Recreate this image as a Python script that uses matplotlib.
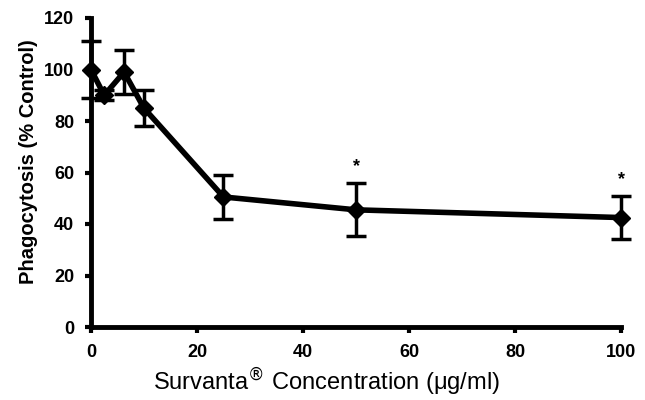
import matplotlib.pyplot as plt

plt.rcParams['font.family'] = ['Liberation Sans', 'DejaVu Sans']

# datos
conc = [0, 2.5, 6.25, 10, 25, 50, 100]
phago = [100, 90, 99, 85, 50.5, 45.5, 42.5]
err = [11, 2, 8.5, 7, 8.5, 10.3, 8.5]
signif = [50, 100]

fig = plt.figure(figsize=(6.45, 4.0), dpi=100)
ax = fig.add_axes([0.141, 0.1825, 0.822, 0.7725])

ax.errorbar(conc, phago, yerr=err, color='black', lw=4, marker='D', ms=9,
            elinewidth=2.5, capsize=7, capthick=2.5, clip_on=False, zorder=3)

# asteriscos de significancia
for x in signif:
    i = conc.index(x)
    ax.text(x, phago[i] + err[i] + 3, '*', ha='center', va='bottom',
            fontsize=13, fontweight='bold')

ax.set_xlim(0, 100)
ax.set_ylim(0, 120)
ax.set_xticks(range(0, 101, 20))
ax.set_yticks(range(0, 121, 20))
for s in ['top', 'right']:
    ax.spines[s].set_visible(False)
for s in ['left', 'bottom']:
    ax.spines[s].set_linewidth(3.5)
ax.tick_params(width=3, length=4, labelsize=13, pad=8)
for lab in ax.get_xticklabels() + ax.get_yticklabels():
    lab.set_fontweight('bold')

ax.set_ylabel('Phagocytosis (% Control)', fontsize=14.5, fontweight='bold')
ax.yaxis.set_label_coords(-0.1, 0.535)
ax.set_xlabel('Survanta$^{®}$ Concentration (μg/ml)', fontsize=17)
ax.xaxis.set_label_coords(0.445, -0.125)

fig.savefig('out.png', dpi=100)
